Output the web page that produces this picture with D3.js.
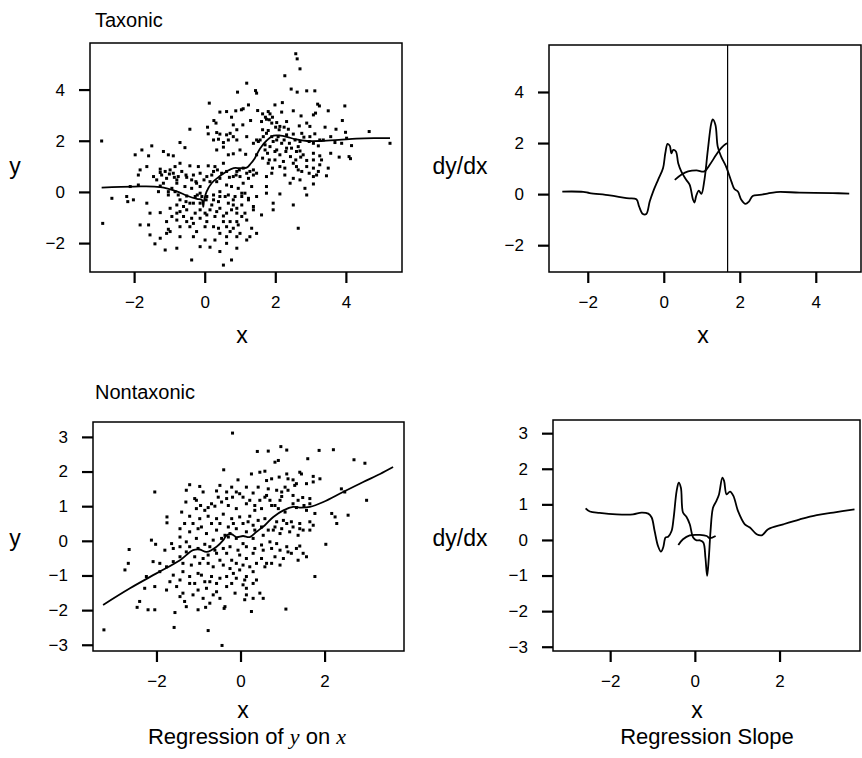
<!DOCTYPE html>
<html><head><meta charset="utf-8">
<script src="https://cdn.jsdelivr.net/npm/d3@7"></script>
<style>
body{margin:0;background:#fff}
svg{display:block}
text{font-family:"Liberation Sans",Arial,Helvetica,sans-serif;fill:#000}
</style>
</head><body>
<svg id="c" width="862" height="758"></svg>
<script>
// ---------- DATA ----------
const taxonicPoints = [
[2.58,5.40],[2.62,5.20],[2.70,4.81],[2.27,4.54],[1.19,4.25],[0.93,3.90],[1.44,3.96],[1.47,3.86],[2.45,4.02],[2.62,3.90],[2.89,3.95],[3.12,3.95],
[0.13,3.47],[1.24,3.40],[2.20,3.49],[1.99,3.40],[3.20,3.43],[3.25,3.36],[3.97,3.36],
[0.43,3.12],[0.62,3.14],[0.88,3.17],[1.04,3.21],[1.09,3.25],[1.50,3.18],[1.80,3.14],[1.85,3.05],[2.18,3.12],[2.51,3.17],[2.73,2.97],[3.08,3.01],[3.14,3.08],[3.50,3.17],
[0.26,2.79],[0.32,2.69],[0.76,2.92],[0.81,2.62],[1.08,2.62],[1.30,2.79],[1.61,2.75],[1.75,2.84],[1.92,2.92],[2.01,2.53],[2.13,2.56],[2.32,2.75],[2.68,2.58],[2.89,2.69],[2.98,2.56],[3.41,2.53],[3.72,2.45],[3.90,2.79],[3.99,2.33],
[-0.42,2.45],[0.08,2.53],[0.10,2.27],[0.34,2.32],[0.43,2.26],[0.62,2.23],[0.72,2.29],[0.81,2.16],[0.91,2.43],[1.19,2.16],[1.47,2.03],[1.66,2.16],[1.80,2.40],[2.08,2.16],[2.32,2.23],[2.51,2.26],[2.75,2.29],[2.98,2.16],[3.12,2.27],[3.26,2.03],[3.57,2.16],[4.02,2.10],[4.66,2.36],[5.25,1.90],
[-0.70,1.93],[0.25,2.03],[0.39,2.06],[0.53,1.93],[0.67,2.03],[0.91,2.03],[1.38,1.90],[1.52,1.97],[1.71,1.84],[1.94,1.97],[2.18,1.90],[2.46,1.71],[2.65,1.77],[2.70,1.60],[3.08,1.90],[3.22,1.80],[3.36,2.03],[3.69,1.93],[3.88,1.90],[4.16,1.81],
[-2.92,1.99],[-1.50,1.80],[-1.78,1.64],[-1.97,1.45],[-1.59,1.41],[-1.17,1.58],[-1.03,1.45],[-0.89,1.41],[-0.56,1.73],[0.34,1.64],[0.53,1.75],[0.67,1.45],[0.81,1.49],[1.00,1.64],[1.16,1.47],[1.47,1.45],[1.78,1.51],[2.04,1.64],[2.32,1.71],[2.60,1.58],[2.79,1.45],[3.08,1.51],[3.26,1.41],[3.57,1.51],[3.81,1.36],[4.09,1.38],[4.13,1.30],
[-1.83,0.86],[-1.64,0.99],[-1.26,0.89],[-0.98,0.86],[-0.84,0.99],[-0.70,1.12],[-0.42,1.02],[-0.18,0.99],[0.10,1.02],[0.29,0.99],[0.53,1.12],[0.62,0.80],[0.91,0.80],[1.09,0.93],[1.28,0.80],[1.47,0.73],[1.80,1.12],[1.92,0.93],[2.13,0.99],[2.27,0.93],[2.60,0.99],[2.75,0.80],[2.89,0.99],[3.08,0.93],[3.22,0.80],[3.50,0.93],
[-1.88,0.66],[-1.45,0.60],[-1.22,0.66],[-1.08,0.53],[-0.89,0.73],[-0.75,0.60],[-0.51,0.57],[-0.32,0.66],[-0.13,0.73],[0.06,0.60],[0.43,0.53],[0.70,0.57],[0.89,0.66],[1.00,0.60],[1.38,0.66],[1.75,0.60],[1.90,0.73],[2.27,0.66],[2.51,0.53],[2.70,0.47],[3.08,0.60],[3.17,0.66],[3.45,0.63],
[-2.11,0.21],[-1.88,0.27],[-1.26,0.23],[-0.93,0.14],[-0.79,0.34],[-0.56,0.21],[-0.37,0.14],[-0.23,0.34],[0.15,0.40],[0.34,0.40],[0.62,0.27],[0.76,0.21],[0.95,0.14],[1.09,0.34],[1.33,0.21],[1.75,0.21],[2.42,0.34],[2.84,0.14],[3.08,0.31],
[-2.63,-0.25],[-2.21,-0.18],[-2.18,-0.38],[-2.02,-0.31],[-1.31,0.01],[-1.03,0.01],[-0.75,-0.12],[-0.51,-0.16],[-0.27,-0.18],[-0.13,-0.05],[0.06,-0.18],[0.25,-0.12],[0.43,-0.18],[0.67,-0.12],[0.86,-0.18],[1.05,-0.05],[1.24,-0.25],[1.47,-0.18],[1.75,-0.05],[2.13,-0.08],[2.89,-0.12],
[-1.64,-0.44],[-0.79,-0.51],[-0.60,-0.57],[-0.42,-0.44],[-0.13,-0.44],[0.20,-0.51],[0.39,-0.38],[0.67,-0.44],[0.81,-0.51],[1.05,-0.51],[1.24,-0.31],[1.38,-0.57],[1.94,-0.44],[2.51,-0.51],
[-1.55,-0.83],[-1.26,-0.81],[-1.08,-1.16],[-0.93,-0.96],[-0.70,-0.77],[-0.51,-0.70],[-0.27,-0.83],[-0.13,-0.70],[0.06,-0.90],[0.29,-0.96],[0.53,-0.94],[0.91,-0.83],[1.14,-0.83],[1.38,-0.70],[1.94,-0.70],[1.61,-0.90],
[-1.83,-1.29],[-1.59,-1.29],[-1.03,-1.46],[-0.98,-1.55],[-0.79,-1.10],[-0.51,-1.16],[-0.32,-1.23],[-0.23,-1.55],[0.01,-1.36],[0.25,-1.36],[0.39,-1.42],[0.62,-1.36],[0.81,-1.42],[0.95,-1.29],[1.33,-1.42],[1.47,-1.62],[2.65,-1.42],[-2.89,-1.23],
[-1.55,-1.68],[-1.26,-1.81],[-1.08,-1.62],[-0.70,-1.75],[-0.32,-1.75],[0.01,-1.88],[0.29,-1.88],[0.62,-1.75],[0.91,-1.75],[1.19,-1.88],
[-1.41,-2.03],[-1.12,-2.27],[-0.79,-2.20],[-0.13,-2.14],[0.15,-2.16],[0.43,-2.33],[0.62,-2.01],[0.91,-2.20],
[-0.37,-2.66],[0.53,-2.86],[0.76,-2.66],
[1.64,3.05],[1.72,2.92],[1.83,2.82],[1.90,2.69],[2.04,2.71],[2.11,2.43],[2.25,2.53],[2.37,2.45],[1.64,2.43],[1.75,2.29],[1.90,2.16],[2.04,2.03],[2.25,2.03],[2.40,1.90],[2.56,2.03],[2.70,1.97],[2.81,2.14],[2.96,1.97],[1.57,2.03],[1.71,1.64],[1.85,1.77],[1.99,1.58],[2.13,1.45],[2.30,1.58],[2.43,1.38],[2.58,1.25],[2.72,1.36],[2.89,1.23],[3.08,1.25],[3.31,1.25],[1.64,1.32],[1.83,1.25],[1.99,1.25],[2.23,1.19],[2.51,1.12],[2.65,0.86],[2.96,0.73],[3.26,1.06],
[-1.26,0.76],[-1.12,0.80],[-1.00,0.70],[-0.86,0.57],[-0.79,0.47],[-0.65,0.80],[-0.53,0.66],[-0.37,0.47],[-0.25,0.40],[-0.13,0.21],[-0.02,0.47],[0.20,0.66],[0.25,0.80],[0.36,0.86],[0.48,0.73],[0.81,0.60],[0.98,0.86],[1.19,0.73],[1.24,0.53],[1.38,0.86],[-1.36,0.47],[-1.17,0.34],[-1.03,-0.12],[-0.84,0.01],[-0.70,-0.31],[-0.53,-0.38],[-0.32,-0.44],[-0.21,-0.12],[-0.08,-0.18],[0.04,-0.31],
[0.01,-0.83],[0.15,-0.70],[0.34,-0.77],[0.43,-0.64],[0.62,-0.83],[0.76,-0.70],[0.91,-0.64],[1.05,-0.96],[1.19,-1.10],[0.53,-1.16],[0.72,-1.16],[0.91,-1.16],[1.05,-0.18],[1.14,-0.05],[0.25,-0.31],[0.43,0.01],[0.58,-0.18],[0.81,-0.31],[0.06,-1.16],[-0.13,-1.03],[-0.37,-1.03],[-0.60,-0.96],[-0.79,-0.83],[-0.98,-0.64],[-0.42,-1.36],[-0.70,-1.36],[0.43,-1.62],[0.72,-1.55],[1.00,-1.62],[1.28,-1.75]
];
const taxonicFitX = [-2.92,-2.0,-1.26,-0.79,-0.5,-0.22,-0.08,-0.04,-0.02,0.05,0.2,0.43,0.62,0.82,1.0,1.19,1.3,1.42,1.57,1.75,1.95,2.15,2.33,2.6,2.9,3.3,3.8,4.3,4.8,5.25];
const taxonicFitY = [0.17,0.21,0.19,0.02,-0.15,-0.27,-0.31,-0.58,-0.35,0.0,0.35,0.62,0.80,0.93,0.93,0.95,1.1,1.32,1.7,2.0,2.2,2.2,2.15,2.05,1.99,1.99,2.03,2.08,2.1,2.1];

const taxonicSlopeX = [-2.67,-2.12,-1.95,-1.42,-0.98,-0.72,-0.65,-0.55,-0.46,-0.37,-0.28,-0.15,-0.02,0.04,0.10,0.16,0.20,0.25,0.32,0.38,0.46,0.59,0.68,0.77,0.81,0.85,0.92,0.99,1.07,1.16,1.25,1.29,1.36,1.42,1.51,1.64,1.78,1.86,1.95,2.04,2.15,2.24,2.34,2.52,2.69,2.96,3.57,4.45,4.88];
const taxonicSlopeY = [0.10,0.09,0.04,-0.05,-0.16,-0.20,-0.48,-0.78,-0.78,-0.29,0.10,0.56,1.01,1.60,1.97,1.89,1.60,1.73,1.67,1.21,0.89,0.56,0.37,-0.22,-0.33,-0.09,0.14,0.01,0.56,1.73,2.77,2.93,2.71,1.86,1.47,1.08,0.49,0.20,0.10,-0.22,-0.38,-0.29,-0.07,-0.03,0.01,0.08,0.06,0.04,0.02];
const taxonicSlope2X = [0.29,0.46,0.64,0.86,1.07,1.21,1.38,1.51,1.64,1.68];
const taxonicSlope2Y = [0.56,0.76,0.89,0.93,0.89,1.15,1.54,1.80,1.97,2.0];
const taxonicCut = 1.68;

const nontaxonicPoints = [
[-0.19,3.11],[0.40,2.58],[0.66,2.59],[0.96,2.72],[1.10,2.62],[1.87,2.61],[2.21,2.63],[2.70,2.34],[2.96,2.24],[1.60,2.37],[0.82,2.27],[0.90,2.32],[-0.40,2.05],[0.26,1.93],[0.46,1.98],[0.58,2.01],[1.10,1.93],[1.41,1.98],[1.45,1.93],[1.73,1.86],[1.89,1.79],[1.13,1.79],[-0.06,1.76],
[-1.21,1.62],[-0.97,1.57],[-0.49,1.60],[-0.21,1.55],[0.14,1.55],[0.42,1.55],[0.66,1.50],[0.86,1.46],[1.06,1.55],[1.29,1.60],[1.57,1.65],[1.73,1.70],[2.40,1.50],[2.48,1.41],
[-2.04,1.41],[-1.29,1.46],[-0.89,1.41],[-0.57,1.44],[-0.33,1.41],[-0.02,1.36],[0.30,1.38],[0.62,1.31],[0.98,1.28],[1.25,1.31],[1.48,1.25],[1.65,1.22],[3.00,1.17],[-1.09,1.22],[-1.30,1.12],
[-1.05,0.93],[-0.77,0.96],[-0.61,1.00],[-0.29,1.02],[-0.10,0.93],[0.14,1.07],[0.34,1.02],[0.50,0.93],[0.74,1.02],[0.90,0.93],[1.06,0.83],[1.33,0.96],[1.57,0.88],[1.77,0.79],[2.17,0.79],[2.25,0.69],[2.56,0.74],[2.29,0.50],
[-1.75,0.69],[-1.75,0.52],[-1.40,0.83],[-1.21,0.71],[-0.97,0.64],[-0.77,0.71],[-0.57,0.64],[-0.41,0.77],[-0.21,0.64],[-0.02,0.69],[0.22,0.71],[0.42,0.59],[0.58,0.64],[0.86,0.55],[1.02,0.59],[1.21,0.55],[1.41,0.50],[1.65,0.55],[1.73,0.45],
[-1.44,0.35],[-1.21,0.26],[-1.01,0.35],[-0.81,0.21],[-0.57,0.31],[-0.37,0.16],[-0.25,0.21],[-0.10,0.35],[0.14,0.26],[0.34,0.31],[0.54,0.16],[0.78,0.31],[0.94,0.21],[1.17,0.26],[1.37,0.16],[1.49,0.31],
[-2.12,0.02],[-2.02,-0.10],[-1.64,-0.08],[-1.44,0.11],[-1.29,-0.03],[-1.05,0.07],[-0.85,-0.10],[-0.65,0.02],[-0.45,0.07],[-0.29,0.11],[-0.10,0.07],[0.06,-0.08],[0.30,0.07],[0.50,-0.12],[0.70,-0.03],[0.86,-0.08],[1.10,-0.17],[1.41,-0.15],[2.03,-0.10],
[-2.65,-0.25],[-2.67,-0.65],[-2.75,-0.84],[-2.08,-0.60],[-1.92,-0.65],[-1.76,-0.75],[-1.44,-0.46],[-1.29,-0.32],[-1.09,-0.46],[-0.89,-0.51],[-0.77,-0.41],[-0.61,-0.27],[-0.49,-0.56],[-0.33,-0.36],[-0.21,-0.56],[-0.02,-0.41],[0.14,-0.51],[0.30,-0.36],[0.50,-0.51],[0.62,-0.65],[0.82,-0.46],[1.02,-0.51],[1.21,-0.36],[1.37,-0.56],[1.57,-0.46],[1.77,-1.03],
[-2.24,-1.03],[-1.92,-0.89],[-1.60,-0.99],[-1.37,-0.89],[-1.21,-1.03],[-1.01,-0.94],[-0.85,-1.18],[-0.69,-1.03],[-0.57,-1.23],[-0.33,-1.03],[-0.17,-0.94],[-0.02,-0.84],[0.14,-1.03],[0.30,-0.89],[0.38,-1.13],
[-2.28,-1.37],[-2.04,-1.32],[-1.76,-1.42],[-1.52,-1.32],[-1.37,-1.51],[-1.21,-1.23],[-1.01,-1.42],[-0.81,-1.37],[-0.57,-1.47],[-0.33,-1.32],[0.06,-1.27],[0.14,-1.37],[0.46,-1.51],[0.54,-1.66],
[-2.40,-1.75],[-2.20,-1.99],[-2.04,-1.99],[-1.56,-2.07],[-1.33,-1.75],[-1.29,-1.90],[-1.01,-1.99],[-0.73,-1.80],[-0.37,-1.90],[0.10,-1.70],[0.26,-2.04],[1.08,-1.97],[-2.46,-1.92],[-0.83,-1.92],[-0.39,-1.95],
[-3.25,-2.57],[-1.58,-2.50],[-0.77,-2.59],[-0.44,-3.02],
[-1.05,1.17],[-0.95,1.02],[-0.85,0.88],[-0.69,1.07],[-0.53,1.26],[-0.45,1.12],[-0.33,1.22],[-0.19,1.26],[-0.10,1.41],[0.06,1.26],[0.22,1.17],[0.34,0.88],[0.46,1.17],[0.58,1.26],[0.70,1.17],[0.82,1.02],[0.94,1.17],[0.98,1.41],[1.13,1.46],[1.25,1.07],[1.37,1.17],[1.51,1.02],[1.65,1.07],[0.62,1.74],[0.74,1.79],[0.92,1.84],[1.25,1.76],[1.33,1.65],
[-1.33,0.50],[-1.13,0.50],[-0.93,0.40],[-0.69,0.50],[-0.49,0.50],[-0.29,0.40],[-0.17,0.50],[0.06,0.50],[0.18,0.55],[0.30,0.45],[0.50,0.40],[0.66,0.31],[0.82,0.40],[0.98,0.35],[1.10,0.50],[1.25,0.40],[1.41,0.35],[1.65,0.31],
[-1.80,-0.27],[-1.60,-0.22],[-1.44,-0.17],[-1.21,-0.17],[-1.01,-0.22],[-0.73,-0.17],[-0.57,-0.36],[-0.41,-0.22],[-0.25,-0.17],[-0.06,-0.27],[0.14,-0.17],[0.34,-0.22],[0.54,-0.27],[0.74,-0.22],[0.94,-0.27],[1.13,-0.32],[1.33,-0.22],[1.49,-0.36],
[-1.60,-0.60],[-1.37,-0.65],[-1.17,-0.70],[-0.97,-0.65],[-0.77,-0.65],[-0.65,-0.75],[-0.41,-0.70],[-0.25,-0.80],[-0.10,-0.65],[0.06,-0.70],[0.22,-0.75],[0.38,-0.65],[0.58,-0.75],[0.74,-0.65],[0.94,-0.70],
[-1.68,-1.18],[-1.44,-1.13],[-1.09,-1.23],[-0.93,-0.99],[-0.73,-1.18],[-0.49,-1.08],[-0.21,-1.23],[-0.10,-1.08],[0.10,-1.13],[0.30,-1.23],[-1.44,-1.61],[-1.13,-1.56],[-0.89,-1.66],[-0.65,-1.56],[-0.49,-1.66],[-0.13,-1.51],[0.14,-1.56],[0.30,-1.66]
];
const nontaxonicFitX = [-3.27,-2.63,-2.0,-1.44,-1.13,-0.97,-0.81,-0.57,-0.41,-0.33,-0.21,-0.10,0.06,0.22,0.38,0.58,0.78,1.02,1.25,1.41,1.65,1.97,2.44,2.92,3.32,3.63];
const nontaxonicFitY = [-1.85,-1.37,-0.94,-0.56,-0.27,-0.25,-0.32,-0.17,0.02,0.16,0.19,0.11,0.14,0.11,0.26,0.45,0.69,0.88,0.98,0.96,0.98,1.12,1.41,1.70,1.93,2.13];

const nontaxonicSlopeX = [-2.58,-2.48,-2.25,-1.85,-1.46,-1.26,-1.10,-1.02,-0.95,-0.87,-0.80,-0.75,-0.69,-0.63,-0.55,-0.50,-0.43,-0.38,-0.33,-0.28,-0.20,-0.12,-0.04,0.04,0.12,0.20,0.25,0.29,0.33,0.37,0.43,0.51,0.57,0.65,0.69,0.75,0.83,0.91,1.02,1.18,1.30,1.46,1.58,1.73,2.09,2.48,2.88,3.27,3.77];
const nontaxonicSlopeY = [0.89,0.80,0.76,0.72,0.72,0.77,0.74,0.63,0.25,-0.17,-0.33,-0.22,0.07,0.09,0.25,0.63,1.38,1.61,1.47,0.77,0.65,0.44,0.07,-0.01,-0.01,-0.07,-0.50,-1.01,-0.50,0.25,0.91,1.10,1.28,1.75,1.66,1.28,1.36,1.24,0.81,0.44,0.35,0.16,0.13,0.30,0.44,0.58,0.70,0.77,0.86];
const nontaxonicSlope2X = [-0.39,-0.28,-0.12,0.12,0.28,0.35,0.49];
const nontaxonicSlope2Y = [-0.14,0.02,0.13,0.14,0.11,0.05,0.11];

const ticksTopX = [-2,0,2,4];
const ticksTopY = [-2,0,2,4];
const ticksBottomX = [-2,0,2];
const ticksBottomY = [-3,-2,-1,0,1,2,3];

// ---------- DRAW ----------
const svg = d3.select("#c");
const zip = (a,b) => a.map((v,i)=>[v,b[i]]);
const fmt = d3.format("d");

const panels = [
  {box:[90,402,43,272], xd:[-3.25,5.59], yd:[-3.13,5.82], xt:ticksTopX, yt:ticksTopY,
   points:taxonicPoints, lines:[zip(taxonicFitX,taxonicFitY)], cut:null},
  {box:[549,861,45,272], xd:[-3.02,5.19], yd:[-3.05,5.84], xt:ticksTopX, yt:ticksTopY,
   points:null, lines:[zip(taxonicSlopeX,taxonicSlopeY), zip(taxonicSlope2X,taxonicSlope2Y)], cut:taxonicCut},
  {box:[93,404,422,651], xd:[-3.51,3.89], yd:[-3.18,3.43], xt:ticksBottomX, yt:ticksBottomY,
   points:nontaxonicPoints, lines:[zip(nontaxonicFitX,nontaxonicFitY)], cut:null},
  {box:[553,860,420,651], xd:[-3.35,3.9], yd:[-3.12,3.37], xt:ticksBottomX, yt:ticksBottomY,
   points:null, lines:[zip(nontaxonicSlopeX,nontaxonicSlopeY), zip(nontaxonicSlope2X,nontaxonicSlope2Y)], cut:null}
];

panels.forEach(p=>{
  const [l,r,t,b] = p.box;
  const x = d3.scaleLinear().domain(p.xd).range([l,r]);
  const y = d3.scaleLinear().domain(p.yd).range([b,t]);
  const g = svg.append("g");
  const ax = g.append("g").attr("transform",`translate(0,${b})`)
    .call(d3.axisBottom(x).tickValues(p.xt).tickFormat(fmt).tickSize(11).tickPadding(13));
  const ay = g.append("g").attr("transform",`translate(${l},0)`)
    .call(d3.axisLeft(y).tickValues(p.yt).tickFormat(fmt).tickSize(11).tickPadding(14));
  [ax,ay].forEach(a=>{
    a.select(".domain").remove();
    a.selectAll(".tick line").attr("stroke","#000").attr("stroke-width",2.2);
    a.selectAll(".tick text").attr("font-size",17).attr("fill","#000")
      .attr("font-family",'"Liberation Sans",Arial,Helvetica,sans-serif');
  });
  g.append("rect").attr("x",l).attr("y",t).attr("width",r-l).attr("height",b-t)
    .attr("fill","none").attr("stroke","#000").attr("stroke-width",1.5);
  if(p.points){
    g.append("g").selectAll("rect").data(p.points).join("rect")
      .attr("x",d=>x(d[0])-1.5).attr("y",d=>y(d[1])-1.5)
      .attr("width",3).attr("height",3).attr("fill","#000");
  }
  const line = d3.line().x(d=>x(d[0])).y(d=>y(d[1])).curve(d3.curveCatmullRom.alpha(0.5));
  p.lines.forEach(L=>{
    g.append("path").attr("d",line(L)).attr("fill","none").attr("stroke","#000")
      .attr("stroke-width",1.8).attr("stroke-linejoin","round");
  });
  if(p.cut!==null){
    g.append("line").attr("x1",x(p.cut)).attr("x2",x(p.cut)).attr("y1",t).attr("y2",b)
      .attr("stroke","#000").attr("stroke-width",1.2);
  }
});

const T = (txt,x,y,size,anchor)=>svg.append("text").attr("x",x).attr("y",y)
  .attr("font-size",size).attr("text-anchor",anchor||"start").text(txt);
T("Taxonic",95,27,20);
T("Nontaxonic",95,399,20);
T("y",15,174,23,"middle");
T("y",15,546,23,"middle");
T("dy/dx",460,174,23,"middle");
T("dy/dx",460,546,23,"middle");
T("x",242,343,23,"middle");
T("x",703,343,23,"middle");
T("x",243,718,23,"middle");
T("x",697,718,23,"middle");
const cap = svg.append("text").attr("x",247).attr("y",744).attr("font-size",22).attr("text-anchor","middle");
cap.append("tspan").text("Regression of ");
cap.append("tspan").attr("font-family","'Liberation Serif','Times New Roman',serif").attr("font-style","italic").text("y");
cap.append("tspan").text(" on ");
cap.append("tspan").attr("font-family","'Liberation Serif','Times New Roman',serif").attr("font-style","italic").text("x");
T("Regression Slope",707,744,22,"middle");
</script>
</body></html>
